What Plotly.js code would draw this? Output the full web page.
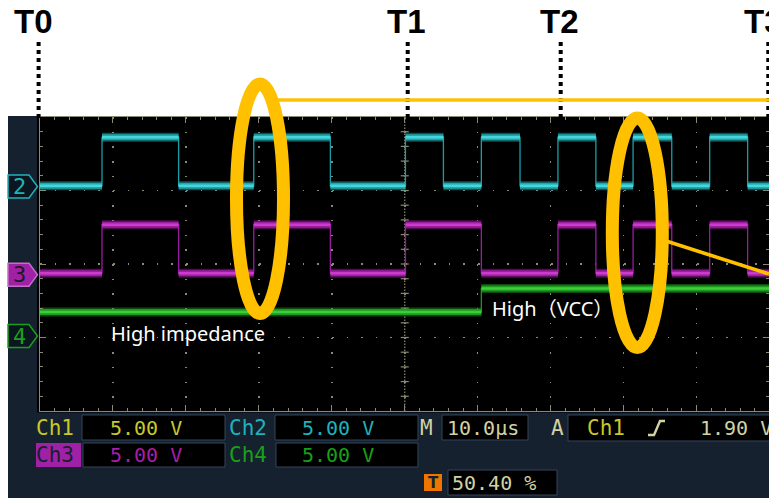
<!DOCTYPE html>
<html><head><meta charset="utf-8">
<script src="https://cdn.plot.ly/plotly-3.0.1.min.js"></script>
<style>html,body{margin:0;padding:0;background:#fff;overflow:hidden}#chart{width:769px;height:498px}</style>
</head><body><div id="chart"></div>
<script>
// ---------------- data ----------------
const timeRangeUs = [0, 99.93];          // 10 µs / div
const voltsPerDiv = 5;
// Ch2 (cyan)
const ch2Edges  = [8.5, 19.0, 29.3, 39.8, 50.1, 55.3, 60.5, 65.8, 71.0, 76.2, 81.3, 86.6, 91.8, 97.0];
const ch2Levels = [0, 3.3, 0, 3.3, 0, 3.3, 0, 3.3, 0, 3.3, 0, 3.3, 0, 3.3, 0];
const ch2Offset = 3.064;                 // ground marker, divisions
// Ch3 (magenta)
const ch3Edges  = [8.5, 19.0, 29.3, 39.8, 50.1, 60.5, 71.0, 76.2, 81.3, 86.6, 91.8, 97.0];
const ch3Levels = [0, 3.3, 0, 3.3, 0, 3.3, 0, 3.3, 0, 3.3, 0, 3.3, 0];
const ch3Offset = 1.875;
// Ch4 (green)
const ch4Edges  = [60.5];
const ch4Levels = [1.6, 3.2];
const ch4Offset = 1.026;
// markers / labels
const timeMarkers = ["T0", "T1", "T2", "T3"];
const readoutRow1 = ["Ch1", "5.00 V", "Ch2", "5.00 V", "M", "10.0µs", "A", "Ch1", "1.90 V"];
const readoutRow2 = ["Ch3", "5.00 V", "Ch4", "5.00 V"];
const triggerPos  = "50.40 %";
const noteLow  = "High impedance";
const noteHigh = "High（VCC）";

// ---------------- helpers ----------------
const W = 769, H = 498;
const PX = p => p / W;
const PY = p => 1 - p / H;

function channelTraces(edges, levels, offset, cEdge, cBand, cCore) {
  const y = v => offset + v / voltsPerDiv;
  const bounds = [timeRangeUs[0], ...edges, timeRangeUs[1]];
  const sx = [], sy = [];
  for (let i = 0; i < levels.length; i++) {
    sx.push(bounds[i], bounds[i + 1]);
    sy.push(y(levels[i]), y(levels[i]));
  }
  const bx = [], by = [];
  for (let i = 0; i < levels.length; i++) {
    bx.push(bounds[i], bounds[i + 1], null);
    by.push(y(levels[i]), y(levels[i]), null);
  }
  const base = {type: 'scatter', mode: 'lines', hoverinfo: 'skip', showlegend: false, connectgaps: false};
  return [
    Object.assign({}, base, {x: sx, y: sy, line: {color: cEdge, width: 1.3}}),
    Object.assign({}, base, {x: bx, y: by, line: {color: cBand, width: 9}, opacity: 0.45}),
    Object.assign({}, base, {x: bx, y: by, line: {color: cBand, width: 6}, opacity: 0.9}),
    Object.assign({}, base, {x: bx, y: by, line: {color: cCore, width: 2.5}})
  ];
}

const traces = [
  ...channelTraces(ch2Edges, ch2Levels, ch2Offset, '#1a9ea6', '#22b0b6', '#44d6d8'),
  ...channelTraces(ch3Edges, ch3Levels, ch3Offset, '#9a1c9e', '#a620aa', '#cc3ccc'),
  ...channelTraces(ch4Edges, ch4Levels, ch4Offset, '#1c961c', '#20a420', '#3ccc3c')
];

// ---------------- decoration ----------------
const ORANGE = '#FFC000', NAVY = '#15212f', GRID = '#8a8a74', BEIGE = '#d2d2a2';
const shapes = [];
const rectPx = (x0, y0, x1, y1, fill, line, layer) => shapes.push({
  type: 'rect', xref: 'paper', yref: 'paper', layer: layer || 'below',
  x0: PX(x0), x1: PX(x1), y0: PY(y1), y1: PY(y0), fillcolor: fill,
  line: line ? {color: line, width: 1} : {width: 0}
});
const linePx = (x0, y0, x1, y1, color, width, dash, layer) => shapes.push({
  type: 'line', xref: 'paper', yref: 'paper', layer: layer || 'above',
  x0: PX(x0), x1: PX(x1), y0: PY(y0), y1: PY(y1),
  line: {color: color, width: width, dash: dash || 'solid'}
});
const pathPx = (pts, fill, line, lw, layer, closed) => shapes.push({
  type: 'path', xref: 'paper', yref: 'paper', layer: layer || 'above',
  path: 'M' + pts.map(p => PX(p[0]) + ',' + PY(p[1])).join(' L') + (closed ? ' Z' : ''),
  fillcolor: fill || 'rgba(0,0,0,0)', line: {color: line, width: lw}
});

// scope panel + screen
rectPx(8, 116, 769, 498, NAVY, null);
rectPx(37, 116, 769, 412.5, '#000000', null);

// centre axis of graticule (dense dotted + cross ticks)
shapes.push({type: 'line', xref: 'x', yref: 'y', x0: 50, x1: 50, y0: 0, y1: 4, layer: 'below',
  line: {color: GRID, width: 1.2, dash: '1.5px,1.5px'}});
for (let k = 1; k < 20; k++) {
  shapes.push({type: 'line', xref: 'x', yref: 'y', x0: -4, x1: 4, y0: k * 0.2, y1: k * 0.2, layer: 'below',
    xsizemode: 'pixel', xanchor: 50, line: {color: GRID, width: 1.2}});
}

// time marker dotted lines
const markerX = [38.6, 407.7, 560.7, 768.3];
markerX.forEach(x => linePx(x, 42, x, 118, '#000', 4, '4px,4px'));

// orange highlights
const ell = (cx, cy, rx, ry) => shapes.push({type: 'circle', xref: 'paper', yref: 'paper', layer: 'above',
  x0: PX(cx - rx), x1: PX(cx + rx), y0: PY(cy + ry), y1: PY(cy - ry), line: {color: ORANGE, width: 13}});
ell(260, 198.7, 23.5, 114.8);
ell(637.3, 232.8, 25, 114.7);
linePx(271.7, 100, 769, 100, ORANGE, 3.6);
linePx(663, 240, 769, 274, ORANGE, 3.6);

// channel ground markers
const penta = yc => [[8, yc - 11.5], [29, yc - 11.5], [37.5, yc], [29, yc + 11.5], [8, yc + 11.5]];
pathPx(penta(186.5), '#0b1620', '#1fb4bc', 1.5, 'above', true);
pathPx(penta(274.7), '#a020a6', '#c070c4', 1.5, 'above', true);
pathPx(penta(336), '#0b1620', '#1ca01c', 1.5, 'above', true);

// readout boxes
const BOXL = '#34465a';
rectPx(82, 415, 225, 440, '#000', BOXL);
rectPx(275, 415, 418, 440, '#000', BOXL);
rectPx(83, 443, 225, 467, '#000', BOXL);
rectPx(276, 443, 418, 467, '#000', BOXL);
rectPx(442, 415, 528, 440, '#000', BOXL);
rectPx(568, 415, 775, 441, '#000', BOXL);
rectPx(448, 470, 557, 495, '#000', BOXL);
rectPx(36, 443, 81, 467, '#a020a6', null);
rectPx(424, 474, 442, 491, '#f07400', null);
pathPx([[648, 435], [654, 435], [660, 421], [665, 421]], null, BEIGE, 2.4, 'above', false);

// ---------------- text ----------------
const annotations = [];
const ann = (text, x, y, color, size, family, xanchor, weight) => annotations.push({
  text: text, x: PX(x), y: PY(y), xref: 'paper', yref: 'paper', showarrow: false,
  xanchor: xanchor || 'left', yanchor: 'middle', borderpad: 0,
  font: {color: color, size: size, family: family, weight: weight || 400}
});

const TF = 'Liberation Sans, Arial, sans-serif';
const tCenters = [33, 406.5, 559.5, 763];
timeMarkers.forEach((t, i) => ann(t, tCenters[i], 22, '#000', 33, TF, 'center', 700));

ann(noteLow, 110, 333, '#ffffff', 20, 'Noto Sans, Noto Sans CJK JP');
ann(noteHigh, 491, 308, '#ffffff', 20, 'Noto Sans, Noto Sans CJK JP');

const MF = 'DejaVu Sans Mono';
ann('2', 19.5, 186.5, '#1fb4bc', 22, MF, 'center');
ann('3', 19.5, 274.7, '#1a1a2a', 22, MF, 'center');
ann('4', 19.5, 336, '#1ca01c', 22, MF, 'center');

const YEL = '#c8c82a', CYA = '#1eb2bc', MAG = '#a81ea8', GRN = '#18a018';
ann(readoutRow1[0], 35, 427.5, YEL, 21, MF);
ann(readoutRow1[1], 109, 427.5, YEL, 20, MF);
ann(readoutRow1[2], 228, 427.5, CYA, 21, MF);
ann(readoutRow1[3], 301, 427.5, CYA, 20, MF);
ann(readoutRow1[4], 419, 427.5, BEIGE, 21, MF);
ann(readoutRow1[5], 446, 427.5, BEIGE, 20, MF);
ann(readoutRow1[6], 550, 427.5, BEIGE, 21, MF);
ann(readoutRow1[7], 586, 427.5, YEL, 21, MF);
ann(readoutRow1[8], 699, 427.5, BEIGE, 20, MF);
ann(readoutRow2[0], 35, 455, '#15212f', 21, MF);
ann(readoutRow2[1], 109, 455, MAG, 20, MF);
ann(readoutRow2[2], 228, 455, GRN, 21, MF);
ann(readoutRow2[3], 301, 455, GRN, 20, MF);
ann('T', 433, 482.5, '#15212f', 15, 'DejaVu Sans', 'center', 700);
ann(triggerPos, 451, 482.5, BEIGE, 20, MF);

// ---------------- layout ----------------
const axCommon = {
  showgrid: true, gridcolor: GRID, gridwidth: 1.5, zeroline: false,
  showline: true, linecolor: GRID, linewidth: 1, mirror: 'ticks',
  ticks: 'inside', ticklen: 6, tickcolor: GRID, tickwidth: 1,
  showticklabels: false, fixedrange: true
};
const layout = {
  width: W, height: H, autosize: false,
  margin: {l: 0, r: 0, t: 0, b: 0, pad: 0},
  paper_bgcolor: '#ffffff', plot_bgcolor: 'rgba(0,0,0,0)',
  showlegend: false,
  xaxis: Object.assign({}, axCommon, {
    domain: [40 / W, 1], range: timeRangeUs, dtick: 10, tick0: 0,
    griddash: '1.5px,13.2px',
    minor: {dtick: 2, tick0: 0, ticks: 'inside', ticklen: 3, tickcolor: GRID, showgrid: false}
  }),
  yaxis: Object.assign({}, axCommon, {
    domain: [1 - 411 / H, 1 - 117 / H], range: [0, 4], dtick: 1, tick0: 0,
    griddash: '1.5px,13.1px',
    minor: {dtick: 0.2, tick0: 0, ticks: 'inside', ticklen: 3, tickcolor: GRID, showgrid: false}
  }),
  shapes: shapes,
  annotations: annotations
};
Plotly.newPlot('chart', traces, layout, {staticPlot: true, displayModeBar: false});
</script></body></html>
